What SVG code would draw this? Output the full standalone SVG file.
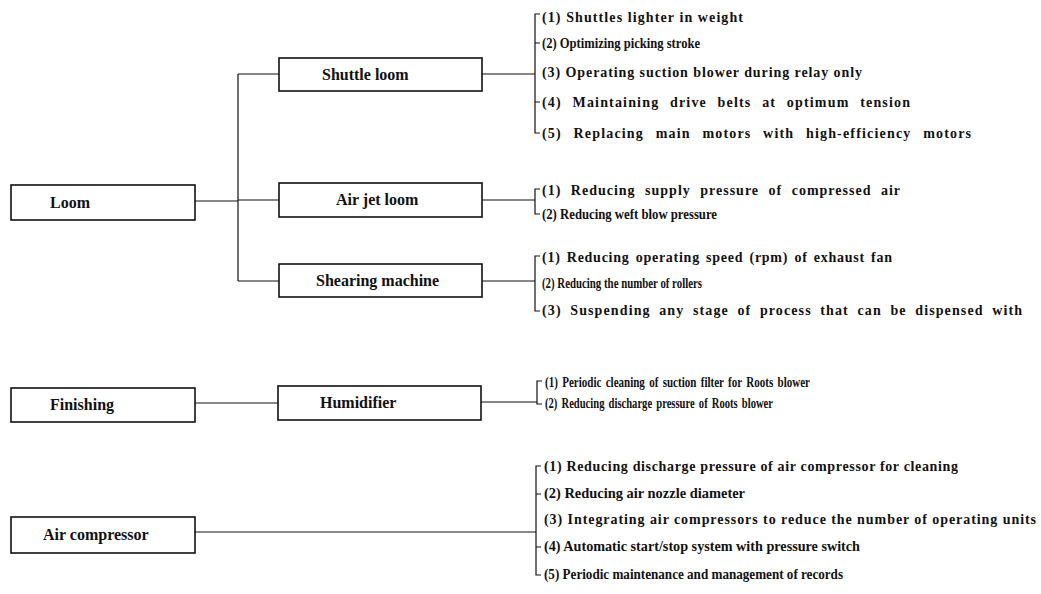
<svg xmlns="http://www.w3.org/2000/svg" width="1041" height="594" viewBox="0 0 1041 594">
<style>
.box{fill:#fff;stroke:#111;stroke-width:1.6}
.lbl{font-family:"Liberation Serif","Times New Roman",serif;font-size:16px;font-weight:bold;fill:#111}
.it{font-family:"Liberation Serif","Times New Roman",serif;font-size:14px;font-weight:bold;fill:#111}
.ln{fill:none;stroke:#111;stroke-width:1.2}
</style>
<rect width="1041" height="594" fill="#fff"/>
<g id="connectors" class="ln">
<path d="M195,201 H238 M238,74 V281 M238,74 H279 M238,200 H279 M238,281 H279"/>
<path d="M482,74 H535 M540,14 H535 V133 H540 M535,43 H540 M535,102 H540"/>
<path d="M482,200 H535 M540,189 H535 V214 H540"/>
<path d="M482,281 H535 M540,256 H535 V311 H540"/>
<path d="M195,403 H279 M481,402 H537 M542,381 H537 V404 H542"/>
<path d="M195,532 H536 M541,466 H536 V575 H541 M536,494 H541 M536,547 H541"/>
</g>
<g id="node-loom"><rect class="box" x="11" y="185" width="184" height="35"/><text class="lbl" x="50" y="208">Loom</text></g>
<g id="node-shuttle-loom"><rect class="box" x="279" y="58" width="203" height="33"/><text class="lbl" x="322" y="80">Shuttle loom</text></g>
<g id="node-air-jet-loom"><rect class="box" x="279" y="183" width="203" height="34"/><text class="lbl" x="336" y="205">Air jet loom</text></g>
<g id="node-shearing-machine"><rect class="box" x="279" y="264" width="203" height="33"/><text class="lbl" x="316" y="286">Shearing machine</text></g>
<g id="node-finishing"><rect class="box" x="11" y="388" width="184" height="34"/><text class="lbl" x="50" y="410">Finishing</text></g>
<g id="node-humidifier"><rect class="box" x="278" y="386" width="203" height="34"/><text class="lbl" x="320" y="408">Humidifier</text></g>
<g id="node-air-compressor"><rect class="box" x="11" y="517" width="184" height="36"/><text class="lbl" x="43" y="540">Air compressor</text></g>
<g id="items-shuttle-loom">
<text class="it" x="542" y="22" textLength="201">(1) Shuttles lighter in weight</text>
<text class="it" x="542" y="48" textLength="158" lengthAdjust="spacingAndGlyphs">(2) Optimizing picking stroke</text>
<text class="it" x="542" y="77" textLength="320">(3) Operating suction blower during relay only</text>
<text class="it" x="542" y="107" textLength="368" word-spacing="6">(4) Maintaining drive belts at optimum tension</text>
<text class="it" x="542" y="138" textLength="429" word-spacing="7">(5) Replacing main motors with high-efficiency motors</text>
</g>
<g id="items-air-jet-loom">
<text class="it" x="542" y="195" textLength="358" word-spacing="5">(1) Reducing supply pressure of compressed air</text>
<text class="it" x="542" y="219" textLength="175" lengthAdjust="spacingAndGlyphs">(2) Reducing weft blow pressure</text>
</g>
<g id="items-shearing-machine">
<text class="it" x="542" y="262" textLength="350" word-spacing="2">(1) Reducing operating speed (rpm) of exhaust fan</text>
<text class="it" x="542" y="288" textLength="160" lengthAdjust="spacingAndGlyphs">(2) Reducing the number of rollers</text>
<text class="it" x="542" y="315" textLength="480" word-spacing="4">(3) Suspending any stage of process that can be dispensed with</text>
</g>
<g id="items-humidifier">
<text class="it" x="545" y="387" textLength="265" lengthAdjust="spacingAndGlyphs" word-spacing="2">(1) Periodic cleaning of suction filter for Roots blower</text>
<text class="it" x="545" y="408" textLength="228" lengthAdjust="spacingAndGlyphs" word-spacing="2">(2) Reducing discharge pressure of Roots blower</text>
</g>
<g id="items-air-compressor">
<text class="it" x="544" y="471" textLength="414">(1) Reducing discharge pressure of air compressor for cleaning</text>
<text class="it" x="544" y="498" textLength="201" lengthAdjust="spacingAndGlyphs">(2) Reducing air nozzle diameter</text>
<text class="it" x="544" y="524" textLength="492">(3) Integrating air compressors to reduce the number of operating units</text>
<text class="it" x="544" y="551" textLength="316" lengthAdjust="spacingAndGlyphs">(4) Automatic start/stop system with pressure switch</text>
<text class="it" x="544" y="579" textLength="299" lengthAdjust="spacingAndGlyphs">(5) Periodic maintenance and management of records</text>
</g>
</svg>
